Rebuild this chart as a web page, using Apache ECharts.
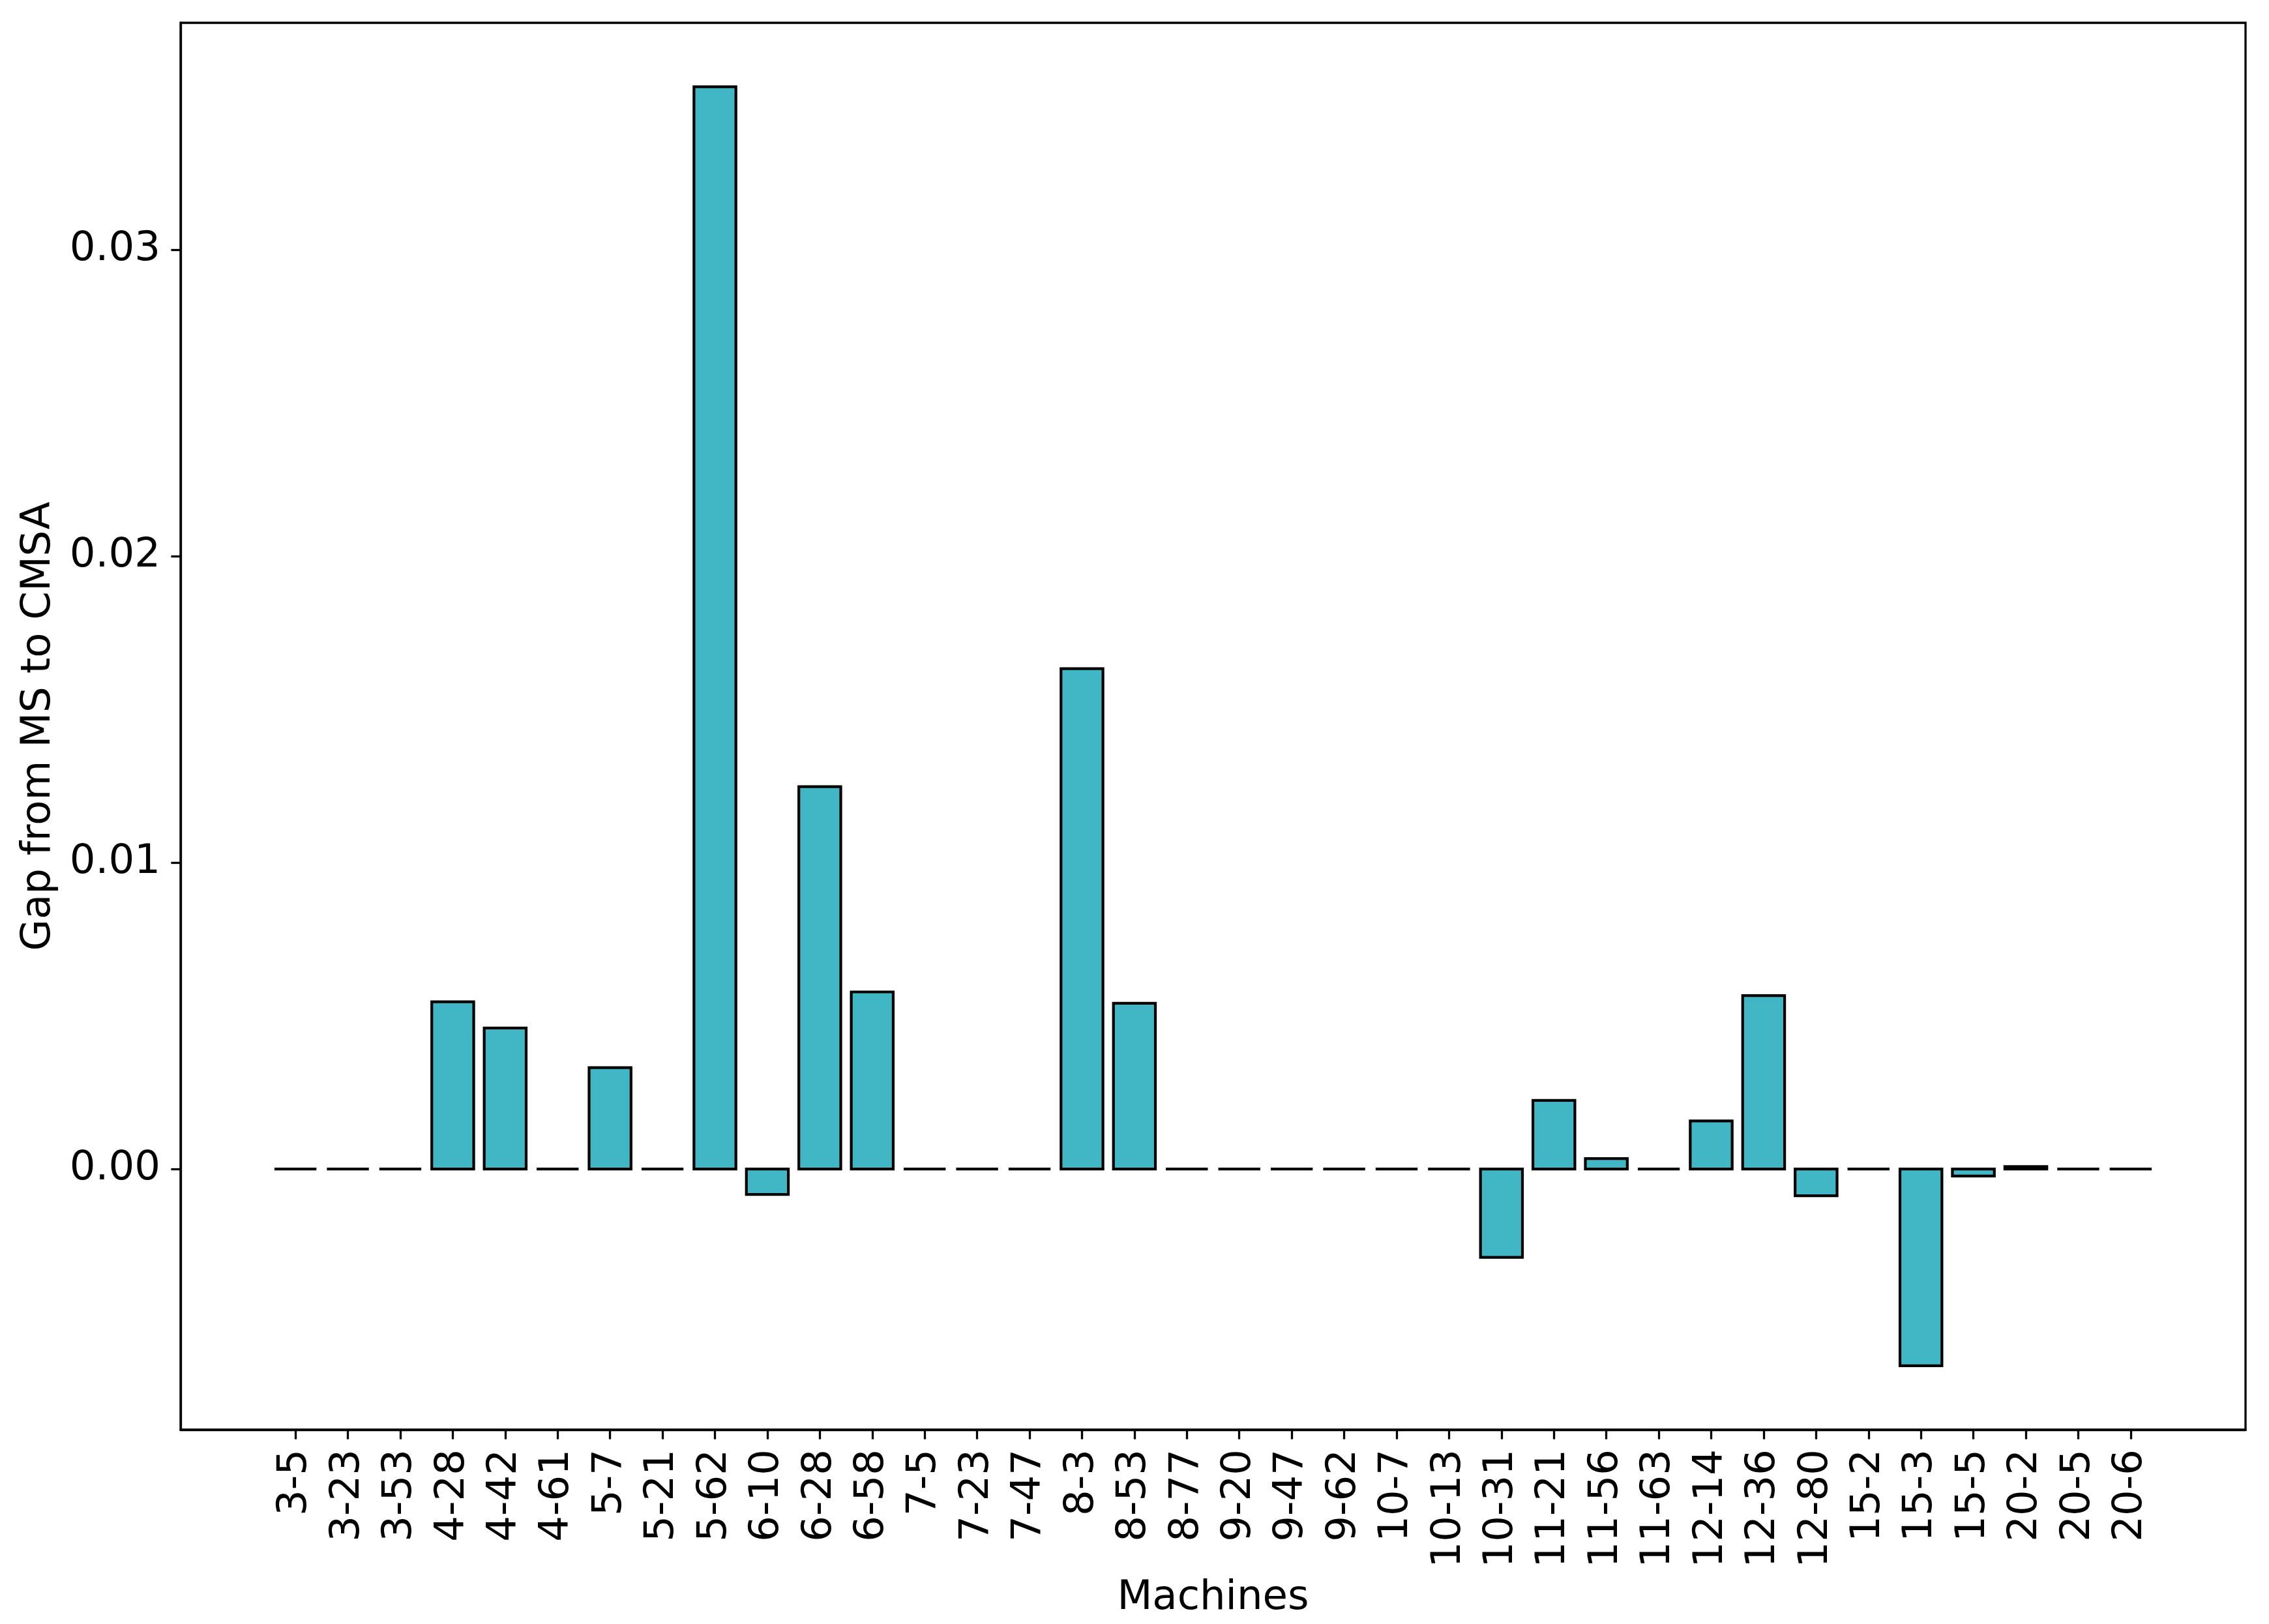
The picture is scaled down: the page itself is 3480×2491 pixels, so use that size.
<!DOCTYPE html>
<html>
<head>
<meta charset="utf-8">
<script src="https://cdn.jsdelivr.net/npm/echarts@6/dist/echarts.min.js"></script>
<style>
html, body { margin: 0; padding: 0; background: #ffffff; }
#chart { width: 3480px; height: 2491px; }
</style>
</head>
<body>
<div id="chart"></div>
<script>
const machines = ['3-5', '3-23', '3-53', '4-28', '4-42', '4-61', '5-7', '5-21', '5-62', '6-10',
  '6-28', '6-58', '7-5', '7-23', '7-47', '8-3', '8-53', '8-77', '9-20', '9-47', '9-62', '10-7',
  '10-13', '10-31', '11-21', '11-56', '11-63', '12-14', '12-36', '12-80', '15-2', '15-3', '15-5',
  '20-2', '20-5', '20-6'];
const gaps = [0, 0, 0, 0.00546, 0.00460, 0, 0.00331, 0, 0.03532, -0.00083,
  0.01248, 0.00578, 0, 0, 0, 0.01633, 0.00541, 0, 0, 0, 0, 0,
  0, -0.00288, 0.00224, 0.00034, 0, 0.00157, 0.00566, -0.00087, 0, -0.00642, -0.00023,
  0.00008, 0, 0];
const yTicks = [0, 0.01, 0.02, 0.03];
const xLabel = 'Machines';
const yLabel = 'Gap from MS to CMSA';

const xPositions = machines.map((_, i) => i);
const barData = gaps.map((v, i) => [i, v]);

const FONT = 'DejaVu Sans';
const FS = 62.5;
const LW = 3.3;
const BAR_W = 0.8;
const BAR_EDGE = 4.2;

const chart = echarts.init(document.getElementById('chart'), null, { renderer: 'canvas' });
chart.setOption({
  animation: false,
  backgroundColor: '#ffffff',
  grid: {
    left: 277, right: 36, top: 35, bottom: 298,
    show: true, borderColor: '#000000', borderWidth: LW, backgroundColor: 'transparent',
    containLabel: false, outerBoundsMode: 'none'
  },
  xAxis: {
    type: 'value',
    min: -2.19, max: 37.19,
    name: xLabel,
    nameLocation: 'middle',
    nameGap: 227,
    nameTextStyle: { fontFamily: FONT, fontSize: FS, color: '#000000' },
    axisLine: { show: true, onZero: false, lineStyle: { color: '#000000', width: LW } },
    axisTick: { show: true, customValues: xPositions, length: 14.6, inside: false,
      lineStyle: { color: '#000000', width: LW } },
    axisLabel: { show: true, customValues: xPositions, rotate: 90, margin: 30,
      formatter: v => machines[Math.round(v)] || '',
      fontFamily: FONT, fontSize: FS, color: '#000000' },
    splitLine: { show: false }
  },
  yAxis: {
    type: 'value',
    min: -0.008507, max: 0.037407,
    name: yLabel,
    nameLocation: 'middle',
    nameGap: 186,
    nameTextStyle: { fontFamily: FONT, fontSize: FS, color: '#000000' },
    axisLine: { show: true, onZero: false, lineStyle: { color: '#000000', width: LW } },
    axisTick: { show: true, customValues: yTicks, length: 14.6, inside: false,
      lineStyle: { color: '#000000', width: LW } },
    axisLabel: { show: true, customValues: yTicks, margin: 31,
      formatter: v => v.toFixed(2),
      fontFamily: FONT, fontSize: FS, color: '#000000' },
    splitLine: { show: false }
  },
  series: [{
    type: 'custom',
    data: barData,
    clip: false,
    encode: { x: 0, y: 1 },
    renderItem: (params, api) => {
      const i = api.value(0);
      const v = api.value(1);
      const p0 = api.coord([i - BAR_W / 2, 0]);
      const p1 = api.coord([i + BAR_W / 2, v]);
      return {
        type: 'rect',
        shape: {
          x: p0[0],
          y: Math.min(p0[1], p1[1]),
          width: p1[0] - p0[0],
          height: Math.abs(p1[1] - p0[1])
        },
        style: { fill: '#41b6c4', stroke: '#000000', lineWidth: BAR_EDGE, lineJoin: 'miter' }
      };
    }
  }]
});
</script>
</body>
</html>
